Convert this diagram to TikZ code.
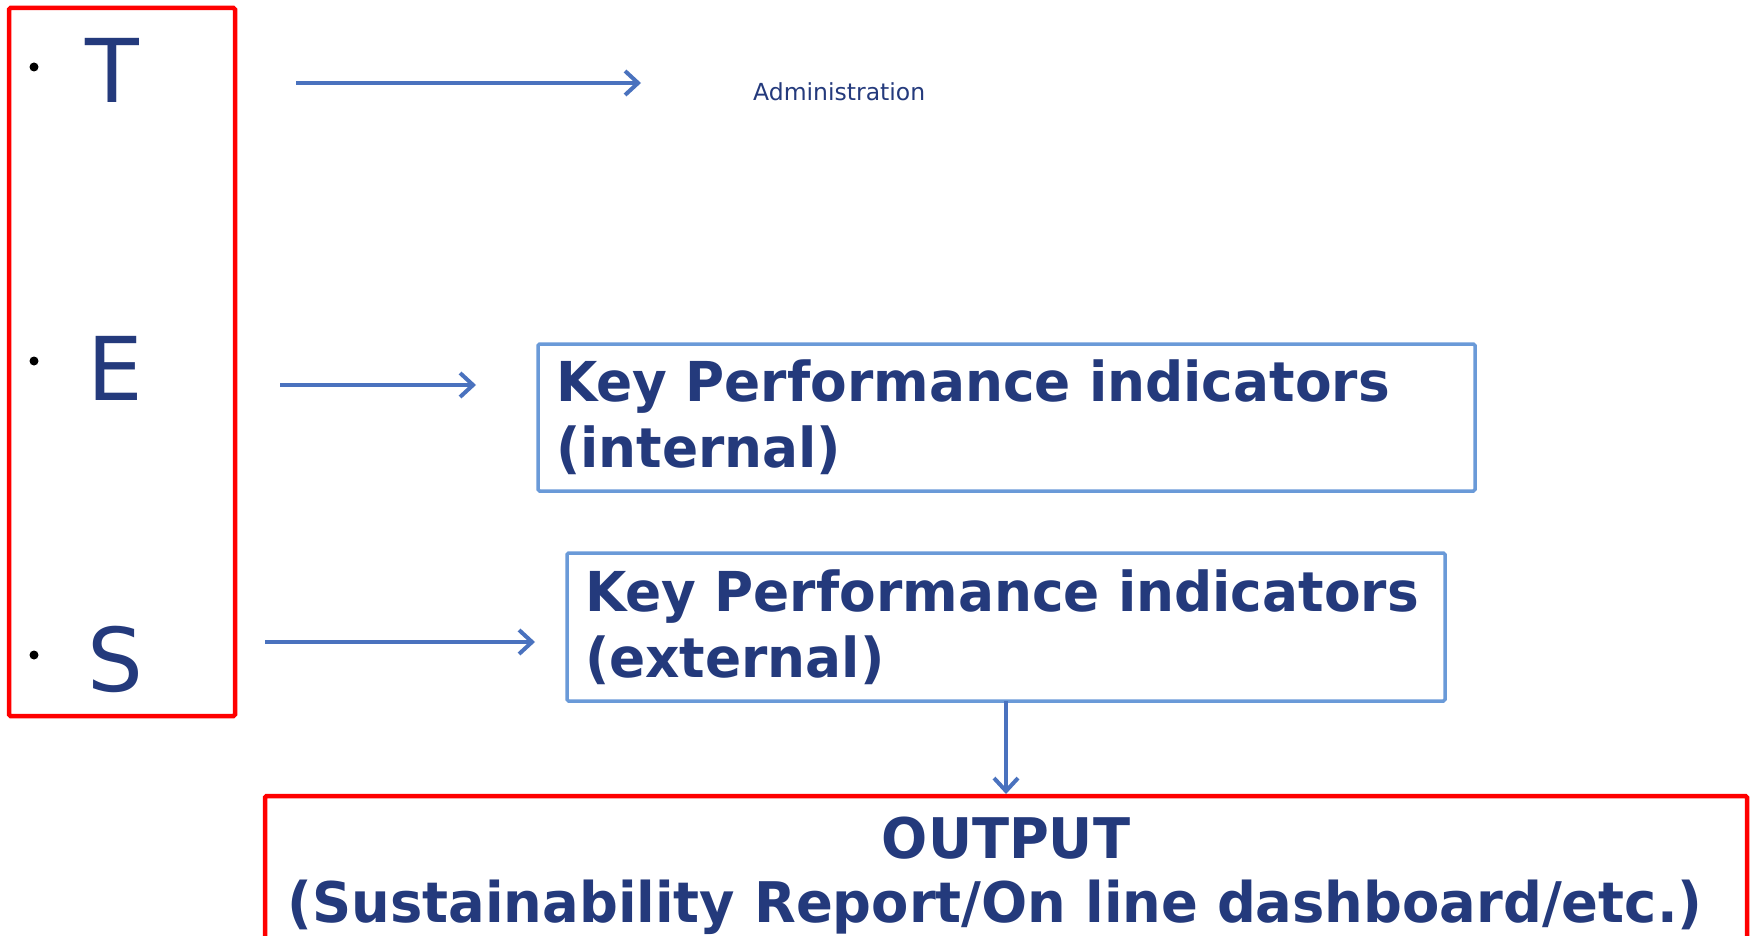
\documentclass[tikz,border=0pt]{standalone}
\usepackage{fontspec}
\setmainfont{DejaVu Sans}
\newfontfamily\condfont{DejaVu Sans}[FakeStretch=0.97]
\usetikzlibrary{arrows.meta}
\definecolor{navy}{HTML}{243A7C}
\definecolor{arrowblue}{HTML}{4A72BE}
\definecolor{boxblue}{HTML}{6A9AD8}
\definecolor{redline}{HTML}{FF0000}
\begin{document}
\begin{tikzpicture}[x=1pt,y=-1pt,
  conn/.style={draw=arrowblue,line width=4pt,-{Straight Barb[length=13pt,width=24pt,line width=4pt]}},
  kpibox/.style={draw=boxblue,line width=3.5pt,rounded corners=1.5pt,inner xsep=18pt,inner ysep=0pt,outer sep=0pt,
    align=left,font=\condfont\bfseries\fontsize{55}{66}\selectfont,text=navy,anchor=north west},
  letter/.style={font=\fontsize{88}{88}\selectfont,text=navy,anchor=base,inner sep=0pt},
  bulletdot/.style={circle,fill=black,inner sep=0pt,minimum size=9pt},
  redbox/.style={draw=redline,line width=4.5pt,rounded corners=1.5pt,outer sep=0pt},
  outbox/.style={draw=redline,line width=4.5pt,rounded corners=1.5pt,align=center,outer sep=0pt,
    font=\condfont\bfseries\fontsize{56}{64}\selectfont,text=navy,anchor=north,inner ysep=21pt}
]
\useasboundingbox (0,0) rectangle (1756,936);
\clip (0,0) rectangle (1756,936);

% left red box
\node[redbox,anchor=north west,minimum width=226pt,minimum height=708pt,inner sep=0pt] (tes) at (9,8) {};
\node[bulletdot] (b1) at (34,67) {};
\node[bulletdot] (b2) at (34,361) {};
\node[bulletdot] (b3) at (34,655) {};
\node[letter] (T) at (112,103) {T};
\node[letter] (E) at (115,400) {E};
\node[letter] (S) at (115,691) {S};

% administration
\node[font=\fontsize{23.5}{28}\selectfont,text=navy,anchor=base west,inner sep=0pt] (adm) at (753,101) {Administration};

% KPI boxes
\node[kpibox,text width=901pt,minimum height=147pt] (kint) at (538,344) {Key Performance indicators\\(internal)};
\node[kpibox,text width=842pt,minimum height=148pt] (kext) at (567,553) {Key Performance indicators\\(external)};

% output box
\node[outbox,minimum width=1482pt] (out) at (1006,796) {OUTPUT\\(Sustainability Report/On line dashboard/etc.)\hspace*{22pt}};

% arrows
\coordinate (a1s) at (296,83);
\coordinate (a1e) at (641,83);
\coordinate (a2s) at (280,385);
\coordinate (a2e) at (476,385);
\coordinate (a3s) at (265,642);
\coordinate (a3e) at (535,642);
\draw[conn] (a1s) -- (a1e);
\draw[conn] (a2s) -- (a2e);
\draw[conn] (a3s) -- (a3e);
\draw[conn,shorten >=2pt] (kext.south) -- (kext.south |- out.north);
\end{tikzpicture}
\end{document}
